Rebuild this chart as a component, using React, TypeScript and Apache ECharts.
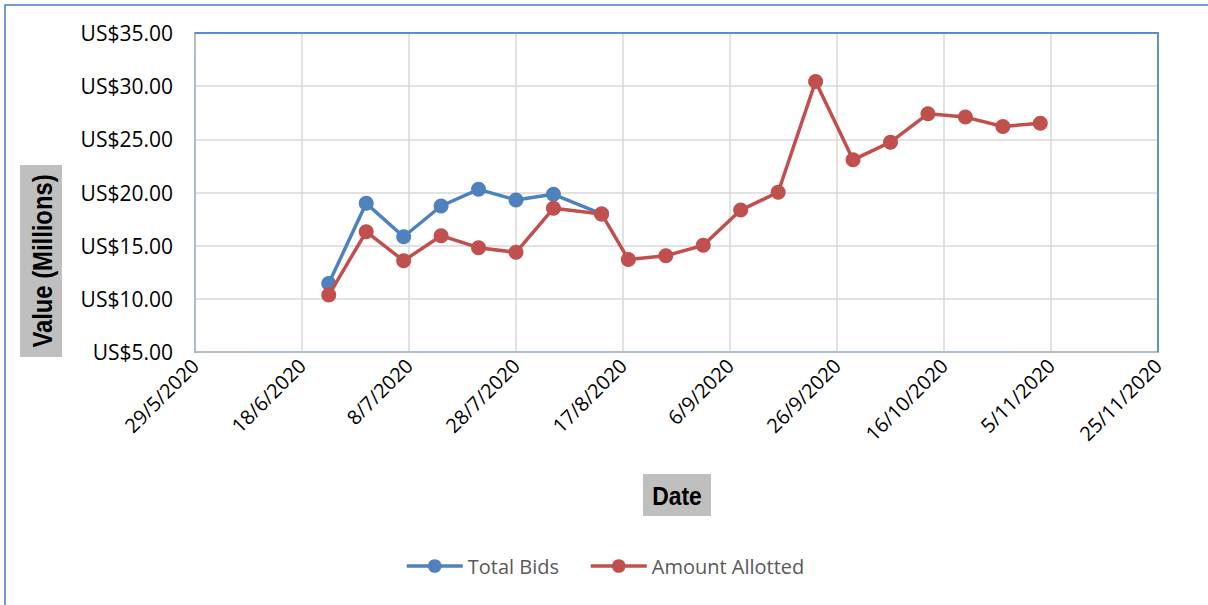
import React, { useEffect, useRef } from "react";
import * as echarts from "echarts";

const bidDates = ["2020-06-23", "2020-06-30", "2020-07-07", "2020-07-14", "2020-07-21", "2020-07-28", "2020-08-04", "2020-08-13"];
const totalBids = [11.45, 18.98, 15.84, 18.73, 20.3, 19.3, 19.83, 17.98];

const allotDates = [
  "2020-06-23", "2020-06-30", "2020-07-07", "2020-07-14", "2020-07-21", "2020-07-28", "2020-08-04", "2020-08-13",
  "2020-08-18", "2020-08-25", "2020-09-01", "2020-09-08", "2020-09-15", "2020-09-22", "2020-09-29",
  "2020-10-06", "2020-10-13", "2020-10-20", "2020-10-27", "2020-11-03",
];
const amountAllotted = [
  10.35, 16.31, 13.58, 15.94, 14.81, 14.37, 18.51, 17.98,
  13.71, 14.05, 15.03, 18.35, 20.02, 30.45, 23.07,
  24.73, 27.4, 27.09, 26.21, 26.52,
];

const axisStartDate = "2020-05-29";
const axisDays = 180;
const axisStepDays = 20;
const yMin = 5;
const yMax = 35;
const yStep = 5;

const DAY = 86400000;
const toUTC = (s: string) => {
  const [y, m, d] = s.split("-").map(Number);
  return Date.UTC(y, m - 1, d);
};
const base = toUTC(axisStartDate);
const dayOffset = (s: string) => Math.round((toUTC(s) - base) / DAY);
const fmtDay = (v: number) => {
  const d = new Date(base + v * DAY);
  return `${d.getUTCDate()}/${d.getUTCMonth() + 1}/${d.getUTCFullYear()}`;
};

const FONT = "'Open Sans', 'Liberation Sans', sans-serif";
const BOLD = "'Liberation Sans', Arial, sans-serif";

const GRID = { left: 195, right: 50, top: 33, bottom: 253 };
const W = 1208;
const H = 605;

export default function App() {
  const ref = useRef<HTMLDivElement>(null);
  useEffect(() => {
    if (!ref.current) return;
    const chart = echarts.init(ref.current, undefined, { renderer: "svg" });
    const blue = "#4f81bd";
    const red = "#c0504d";
    const gx2 = W - GRID.right;
    const gy2 = H - GRID.bottom;
    chart.setOption({
      animation: false,
      backgroundColor: "#ffffff",
      grid: {
        ...GRID,
        show: true,
        borderColor: "#4f81bd",
        borderWidth: 1.5,
      },
      legend: {
        left: 400,
        top: 551,
        itemWidth: 56,
        itemHeight: 17,
        itemGap: 30,
        lineStyle: { width: 3.5 },
        textStyle: { fontFamily: FONT, fontSize: 20, color: "#595959" },
        data: ["Total Bids", "Amount Allotted"],
      },
      xAxis: {
        type: "value",
        min: 0,
        max: axisDays,
        interval: axisStepDays,
        axisLine: { show: true, lineStyle: { color: "#a9b6c8", width: 1.5 } },
        axisTick: { show: false },
        splitLine: { show: true, lineStyle: { color: "#d9d9d9", width: 1.5 } },
        axisLabel: {
          rotate: 45,
          margin: 10,
          fontFamily: FONT,
          fontSize: 20,
          color: "#000000",
          formatter: (v: number) => fmtDay(v),
          showMinLabel: true,
          showMaxLabel: true,
        },
      },
      yAxis: {
        type: "value",
        min: yMin,
        max: yMax,
        interval: yStep,
        axisLine: { show: true, lineStyle: { color: "#a9b6c8", width: 1.5 } },
        axisTick: { show: false },
        splitLine: { show: true, lineStyle: { color: "#d9d9d9", width: 1.5 } },
        axisLabel: {
          margin: 22,
          fontFamily: FONT,
          fontSize: 21,
          color: "#000000",
          formatter: (v: number) => "US$" + v.toFixed(2),
        },
      },
      series: [
        {
          name: "Total Bids",
          type: "line",
          data: bidDates.map((d, i) => [dayOffset(d), totalBids[i]]),
          symbol: "circle",
          symbolSize: 15,
          lineStyle: { color: blue, width: 3.5 },
          itemStyle: { color: blue },
          z: 3,
        },
        {
          name: "Amount Allotted",
          type: "line",
          data: allotDates.map((d, i) => [dayOffset(d), amountAllotted[i]]),
          symbol: "circle",
          symbolSize: 15,
          lineStyle: { color: red, width: 3.5 },
          itemStyle: { color: red },
          z: 4,
        },
      ],
      graphic: [
        {
          type: "rect",
          shape: { x: 5, y: 5, width: 1220, height: 620 },
          style: { fill: "none", stroke: "#4a7ebb", lineWidth: 1.5 },
          silent: true,
        },
        {
          type: "polyline",
          z: 1,
          shape: { points: [[GRID.left, GRID.top], [gx2, GRID.top], [gx2, gy2]] },
          style: { fill: "none", stroke: "#5b8bc9", lineWidth: 1.8 },
          silent: true,
        },
        {
          type: "rect",
          shape: { x: 20, y: 165, width: 42, height: 192 },
          style: { fill: "#bfbfbf" },
        },
        {
          type: "text",
          x: 42,
          y: 261,
          rotation: Math.PI / 2,
          scaleX: 0.85,
          style: {
            text: "Value (Millions)",
            fontFamily: BOLD,
            fontWeight: "bold",
            fontSize: 28,
            fill: "#000000",
            align: "center",
            verticalAlign: "middle",
          },
        },
        {
          type: "rect",
          shape: { x: 643, y: 474, width: 68, height: 42 },
          style: { fill: "#bfbfbf" },
        },
        {
          type: "text",
          x: 677,
          y: 496,
          scaleX: 0.88,
          style: {
            text: "Date",
            fontFamily: BOLD,
            fontWeight: "bold",
            fontSize: 26,
            fill: "#000000",
            align: "center",
            verticalAlign: "middle",
          },
        },
      ],
    });
    return () => chart.dispose();
  }, []);
  return (
    <div
      ref={ref}
      style={{ position: "fixed", left: 0, top: 0, width: W, height: H }}
    />
  );
}
